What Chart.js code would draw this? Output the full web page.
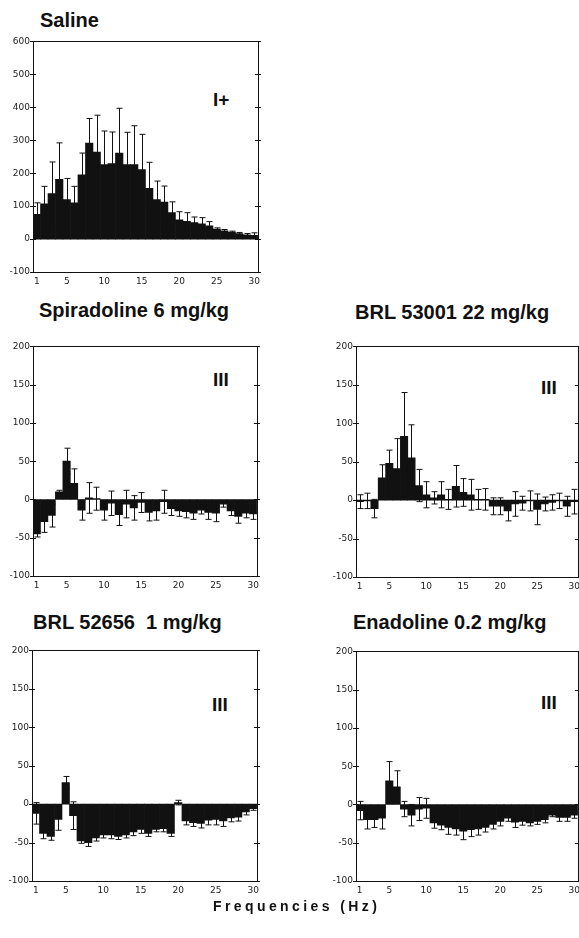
<!DOCTYPE html>
<html lang="en">
<head>
<meta charset="UTF-8">
<title>Power spectra</title>
<script src="https://cdn.jsdelivr.net/npm/chart.js"></script>
<style>
  html, body { margin: 0; padding: 0; background: #fff; width: 579px; height: 938px; overflow: hidden; }
  body { position: relative; font-family: "Liberation Sans", Arial, sans-serif; color: #111; }
  canvas { position: absolute; }
  .title { position: absolute; font-weight: bold; font-size: 20px; line-height: 1; white-space: pre; }
  .mark { position: absolute; font-weight: bold; font-size: 19px; line-height: 1; }
  #xlabel { position: absolute; left: 213px; top: 899px; font-weight: bold; font-size: 14px; line-height: 1; letter-spacing: 3.4px; }
</style>
</head>
<body>
<div class="title" style="left:40px;top:10px">Saline</div>
<div class="title" style="left:39px;top:300px">Spiradoline 6 mg/kg</div>
<div class="title" style="left:355px;top:302px">BRL 53001 22 mg/kg</div>
<div class="title" style="left:33px;top:612px">BRL 52656  1 mg/kg</div>
<div class="title" style="left:353px;top:612px">Enadoline 0.2 mg/kg</div>

<div class="mark" style="left:213px;top:90px">I+</div>
<div class="mark" style="left:213px;top:370px">III</div>
<div class="mark" style="left:541px;top:378px">III</div>
<div class="mark" style="left:212px;top:695px">III</div>
<div class="mark" style="left:541px;top:693px">III</div>

<canvas id="saline"></canvas>
<canvas id="spiradoline"></canvas>
<canvas id="brl53001"></canvas>
<canvas id="brl52656"></canvas>
<canvas id="enadoline"></canvas>

<div id="xlabel">Frequencies (Hz)</div>

<script>
    // frequency bins (Hz) and the ones that get a label
    const hzLabels = ['1','2','3','4','5','6','7','8','9','10','11','12','13','14','15',
                      '16','17','18','19','20','21','22','23','24','25','26','27','28','29','30'];
    const shownHz = ['1','5','10','15','20','25','30'];

    const salineTicks = [-100, 0, 100, 200, 300, 400, 500, 600];
    const drugTicks = [-100, -50, 0, 50, 100, 150, 200];

    const salineMean = [75,107,138,181,120,110,195,291,264,226,229,261,226,226,211,154,120,112,80,58,54,50,46,40,30,25,21,17,13,11];
    const salineSem  = [35,53,96,111,64,50,66,75,112,102,96,136,98,118,107,79,56,49,33,25,26,17,19,13,4,4,3,3,4,8];

    const spiraMean = [-45,-29,-21,10,50,21,-14,2,1,-14,-5,-20,-6,-11,-4,-17,-15,-3,-12,-15,-16,-18,-14,-17,-18,-6,-15,-22,-18,-19];
    const spiraSem  = [4,14,15,2,17,19,13,20,15,13,16,14,18,16,13,11,12,15,9,7,8,8,5,9,11,4,6,9,6,7];

    const brl53001Mean = [-2,-1,-11,29,48,41,83,55,19,7,3,7,1,18,10,7,1,1,-8,-8,-14,-5,-4,-1,-12,-5,-3,-1,-8,-2];
    const brl53001Sem  = [9,10,12,17,17,39,57,43,21,17,8,17,13,27,18,20,13,14,11,11,13,16,9,13,20,9,10,10,13,16];

    const brl52656Mean = [-12,-38,-42,-20,28,-15,-48,-50,-44,-40,-40,-42,-40,-36,-33,-38,-33,-32,-38,2,-22,-24,-25,-21,-20,-22,-18,-17,-10,-6];
    const brl52656Sem  = [14,7,5,14,8,18,3,5,4,4,5,4,4,5,5,4,3,4,4,3,5,5,6,6,7,7,5,5,4,2];

    const enadMean = [-8,-20,-20,-18,31,23,-6,-14,-6,-5,-24,-27,-30,-32,-35,-33,-32,-30,-26,-22,-18,-23,-22,-24,-22,-20,-14,-17,-17,-14];
    const enadSem  = [12,12,10,14,25,21,10,14,15,13,7,6,9,8,11,9,8,6,6,6,4,7,5,4,4,4,2,5,5,4];

    const ink = '#111';

    // error bars drawn behind the bars, so only the outer part shows
    const errorBars = {
        id: 'errorBars',
        beforeDatasetsDraw(chart, args, opts) {
            const ctx = chart.ctx;
            const x = chart.scales.x, y = chart.scales.y;
            const mean = chart.data.datasets[0].data;
            ctx.save();
            ctx.strokeStyle = ink;
            ctx.lineWidth = 1;
            mean.forEach((m, i) => {
                const s = opts.sem[i];
                const px = Math.round(x.getPixelForValue(i)) + 0.5;
                const hi = y.getPixelForValue(m + s);
                const lo = y.getPixelForValue(m - s);
                ctx.beginPath();
                ctx.moveTo(px, hi); ctx.lineTo(px, lo);
                ctx.moveTo(px - 3, hi); ctx.lineTo(px + 3, hi);
                ctx.moveTo(px - 3, lo); ctx.lineTo(px + 3, lo);
                ctx.stroke();
            });
            ctx.restore();
        }
    };

    // box round the plot, with tick marks crossing both side walls
    const frame = {
        id: 'frame',
        afterDatasetsDraw(chart) {
            const ctx = chart.ctx, a = chart.chartArea, y = chart.scales.y;
            ctx.save();
            ctx.strokeStyle = ink;
            ctx.lineWidth = 1;
            ctx.strokeRect(Math.round(a.left) + 0.5, Math.round(a.top) + 0.5,
                           Math.round(a.right - a.left), Math.round(a.bottom - a.top));
            ctx.beginPath();
            y.ticks.forEach(t => {
                const py = Math.round(y.getPixelForValue(t.value)) + 0.5;
                ctx.moveTo(a.left - 3, py); ctx.lineTo(a.left + 3, py);
                ctx.moveTo(a.right - 3, py); ctx.lineTo(a.right + 3, py);
            });
            ctx.stroke();
            ctx.restore();
        }
    };

    function makePanel(id, plot, mean, sem, ticks) {
        const padTop = 6, padRight = 6, yW = 30, xH = 20;
        const cv = document.getElementById(id);
        const w = yW + plot.w + padRight, h = padTop + plot.h + xH;
        cv.width = w; cv.height = h;
        cv.style.width = w + 'px'; cv.style.height = h + 'px';
        cv.style.left = (plot.x - yW) + 'px';
        cv.style.top = (plot.y - padTop) + 'px';

        new Chart(cv, {
            type: 'bar',
            data: {
                labels: hzLabels,
                datasets: [{
                    data: mean,
                    backgroundColor: ink,
                    borderWidth: 0,
                    barPercentage: 1,
                    categoryPercentage: 1
                }]
            },
            options: {
                responsive: false,
                animation: false,
                devicePixelRatio: 1,
                layout: { padding: { top: padTop, right: padRight, left: 0, bottom: 0 } },
                plugins: {
                    legend: { display: false },
                    tooltip: { enabled: false },
                    errorBars: { sem: sem }
                },
                scales: {
                    x: {
                        afterFit: s => { s.height = xH; },
                        grid: { display: false, drawTicks: false },
                        border: { display: false },
                        ticks: {
                            autoSkip: false,
                            maxRotation: 0,
                            padding: 4,
                            color: '#222',
                            font: { family: 'DejaVu Sans', size: 9 },
                            callback: (v, i) => shownHz.includes(hzLabels[i]) ? hzLabels[i] : ''
                        }
                    },
                    y: {
                        min: ticks[0],
                        max: ticks[ticks.length - 1],
                        afterBuildTicks: s => { s.ticks = ticks.map(v => ({ value: v })); },
                        afterFit: s => { s.width = yW; },
                        grid: { display: false, drawTicks: false },
                        border: { display: false },
                        ticks: {
                            padding: 3,
                            color: '#222',
                            font: { family: 'DejaVu Sans', size: 9 }
                        }
                    }
                }
            },
            plugins: [errorBars, frame]
        });
    }

    makePanel('saline',      { x: 33,  y: 39,  w: 225, h: 233 }, salineMean,   salineSem,   salineTicks);
    makePanel('spiradoline', { x: 33,  y: 344, w: 224, h: 232 }, spiraMean,    spiraSem,    drugTicks);
    makePanel('brl53001',    { x: 356, y: 344, w: 222, h: 233 }, brl53001Mean, brl53001Sem, drugTicks);
    makePanel('brl52656',    { x: 32,  y: 648, w: 225, h: 233 }, brl52656Mean, brl52656Sem, drugTicks);
    makePanel('enadoline',   { x: 356, y: 649, w: 222, h: 232 }, enadMean,     enadSem,     drugTicks);
</script>
</body>
</html>
